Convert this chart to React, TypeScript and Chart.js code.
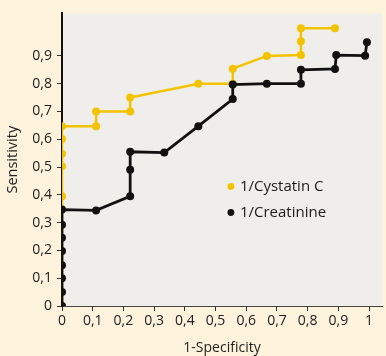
import React, { useEffect, useRef } from "react";
import { Chart, registerables } from "chart.js";

Chart.register(...registerables);

const seriesNames = ["1/Cystatin C", "1/Creatinine"];
const seriesColors = ["#f4c300", "#111111"];

const cystatinX = [0, 0, 0, 0, 0, 0, 0.111, 0.111, 0.222, 0.222, 0.444, 0.556, 0.556, 0.667, 0.778, 0.778, 0.778, 0.889];
const cystatinY = [0, 0.395, 0.503, 0.548, 0.601, 0.647, 0.647, 0.7, 0.7, 0.75, 0.8, 0.8, 0.854, 0.9, 0.903, 0.953, 1.0, 1.0];

const creatinineX = [0, 0, 0, 0, 0, 0, 0, 0, 0.111, 0.222, 0.222, 0.222, 0.333, 0.444, 0.556, 0.556, 0.667, 0.778, 0.778, 0.889, 0.893, 0.987, 0.993];
const creatinineY = [0, 0.05, 0.1, 0.147, 0.198, 0.246, 0.292, 0.347, 0.344, 0.395, 0.49, 0.555, 0.552, 0.647, 0.745, 0.797, 0.8, 0.8, 0.85, 0.853, 0.903, 0.901, 0.949];

const xTicks = [0, 0.1, 0.2, 0.3, 0.4, 0.5, 0.6, 0.7, 0.8, 0.9, 1];
const yTicks = [0, 0.1, 0.2, 0.3, 0.4, 0.5, 0.6, 0.7, 0.8, 0.9];

const xTitle = "1-Specificity";
const yTitle = "Sensitivity";

const FONT = "'Open Sans', 'Noto Sans', sans-serif";
const PAGE_BG = "#fdf2dc";
const PLOT_BG = "#efeeea";

const fmt = (v: number) => String(Math.round(v * 10) / 10).replace(".", ",");

const bgPlugin = {
  id: "bgPlugin",
  beforeDraw(chart: any) {
    const { ctx, chartArea } = chart;
    ctx.save();
    ctx.fillStyle = PAGE_BG;
    ctx.fillRect(0, 0, chart.width, chart.height);
    ctx.fillStyle = PLOT_BG;
    ctx.fillRect(chartArea.left, chartArea.top, chartArea.right - chartArea.left, chartArea.bottom - chartArea.top);
    ctx.restore();
  },
};

const legendPlugin = {
  id: "insideLegend",
  afterDraw(chart: any) {
    const { ctx } = chart;
    const xs = chart.scales.x;
    const ys = chart.scales.y;
    const x0 = xs.getPixelForValue(0.55);
    const yStart = ys.getPixelForValue(0.43);
    ctx.save();
    ctx.font = `15px ${FONT}`;
    ctx.textBaseline = "middle";
    chart.data.datasets.forEach((ds: any, i: number) => {
      const y = yStart + i * 26;
      ctx.fillStyle = ds.borderColor;
      ctx.beginPath();
      ctx.arc(x0, y, 3.4, 0, Math.PI * 2);
      ctx.fill();
      ctx.fillStyle = "#1a1a1a";
      ctx.fillText(ds.label, x0 + 9, y);
    });
    ctx.restore();
  },
};

export default function App() {
  const ref = useRef<HTMLCanvasElement>(null);

  useEffect(() => {
    document.body.style.margin = "0";
    const mk = (xs: number[], ys: number[]) => xs.map((x, i) => ({ x, y: ys[i] }));
    const chart = new Chart(ref.current!, {
      type: "scatter",
      data: {
        datasets: [
          {
            label: seriesNames[0],
            data: mk(cystatinX, cystatinY),
            borderColor: seriesColors[0],
            backgroundColor: seriesColors[0],
            showLine: true,
            borderWidth: 2.5,
            pointRadius: 4,
            pointBorderWidth: 0,
            order: 2,
          },
          {
            label: seriesNames[1],
            data: mk(creatinineX, creatinineY),
            borderColor: seriesColors[1],
            backgroundColor: seriesColors[1],
            showLine: true,
            borderWidth: 2.8,
            pointRadius: 4,
            pointBorderWidth: 0,
            order: 1,
          },
        ],
      },
      options: {
        animation: false,
        responsive: false,
        layout: { padding: { top: 10, right: 0, left: 0, bottom: 0 } },
        plugins: { legend: { display: false }, tooltip: { enabled: false } },
        scales: {
          x: {
            type: "linear",
            min: 0,
            max: 1.042,
            afterBuildTicks: (s: any) => {
              s.ticks = xTicks.map((v) => ({ value: v }));
            },
            afterFit: (s: any) => {
              s.height = 50;
            },
            ticks: {
              callback: (v: any) => fmt(Number(v)),
              font: { family: FONT, size: 14 },
              color: "#222",
              padding: 2,
              maxRotation: 0,
              autoSkip: false,
            },
            grid: { drawOnChartArea: false, drawTicks: true, tickLength: 5, color: "#333", tickWidth: 1 },
            border: { display: true, color: "#444", width: 1 },
            title: {
              display: true,
              text: xTitle,
              font: { family: FONT, size: 14 },
              color: "#222",
              padding: { top: 2, bottom: 0 },
            },
          },
          y: {
            type: "linear",
            min: 0,
            max: 1.053,
            afterBuildTicks: (s: any) => {
              s.ticks = yTicks.map((v) => ({ value: v }));
            },
            afterFit: (s: any) => {
              s.width = 62;
            },
            ticks: {
              callback: (v: any) => fmt(Number(v)),
              font: { family: FONT, size: 14 },
              color: "#222",
              padding: 5,
              autoSkip: false,
            },
            grid: { drawOnChartArea: false, drawTicks: true, tickLength: 5, color: "#333", tickWidth: 1 },
            border: { display: true, color: "#111", width: 2 },
            title: {
              display: true,
              text: yTitle,
              font: { family: FONT, size: 14.5 },
              color: "#222",
              padding: { top: 4, bottom: 0 },
            },
          },
        },
      },
      plugins: [bgPlugin, legendPlugin],
    } as any);
    return () => chart.destroy();
  }, []);

  return (
    <div style={{ width: 386, height: 356 }}>
      <canvas ref={ref} width={386} height={356} style={{ display: "block" }} />
    </div>
  );
}
